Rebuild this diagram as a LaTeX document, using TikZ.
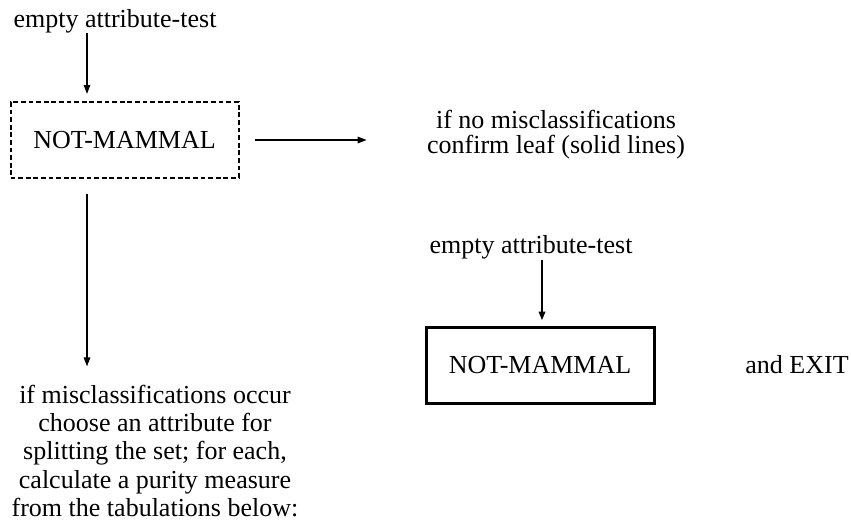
\documentclass[tikz,border=0pt]{standalone}
\usepackage{fontspec}
\setmainfont{Liberation Serif}
\usepackage{tikz}
\usetikzlibrary{arrows.meta,positioning}
\tikzset{
  txt/.style={font=\fontsize{13}{12.5}\selectfont, inner sep=0pt, align=center},
  widetxt/.style={txt, font=\fontsize{13}{14.2}\selectfont},
  leafbox/.style={txt, draw, minimum width=114pt, minimum height=38pt},
  tentative/.style={leafbox, line width=1pt, dash pattern=on 2.4pt off 1.4pt},
  confirmed/.style={leafbox, line width=1.5pt},
  arr/.style={-{Triangle[length=4.5pt,width=3.2pt]}, line width=0.8pt},
  thickarr/.style={arr, line width=1.3pt}
}

\begin{document}
\begin{tikzpicture}[x=0.5pt,y=-0.5pt]
  \useasboundingbox (0,0) rectangle (851,525);
  % tentative leaf
  \node[txt, anchor=base] (test1) at (115,27) {empty attribute-test};
  \node[tentative] (leaf1) at (124.5,140) {NOT-MAMMAL};
  \node[txt] (confirm) at (556,135) {if no misclassifications\\confirm leaf (solid lines)};
  \node[widetxt] (split) at (155,451) {if misclassifications occur\\choose an attribute for\\splitting the set; for each,\\calculate a purity measure\\from the tabulations below:};
  \coordinate (d1) at (87,33);
  \draw[arr] (d1) -- (d1 |- leaf1.north) [shorten >=3.5pt];
  \draw[arr, shorten <=7.5pt, shorten >=30pt] (leaf1.east) -- (leaf1.east -| confirm.west);
  \draw[arr, shorten <=7.5pt, shorten >=9pt] (d1 |- leaf1.south) -- (d1 |- split.north);
  % confirmed leaf
  \node[txt, anchor=base] (test2) at (531,253) {empty attribute-test};
  \node[confirmed] (leaf2) at (540,365) {NOT-MAMMAL};
  \node[txt, anchor=base] (exit) at (797,373) {and EXIT};
  \coordinate (d2) at (542,260);
  \draw[thickarr, shorten >=2.5pt] (d2) -- (d2 |- leaf2.north);
\end{tikzpicture}
\end{document}
